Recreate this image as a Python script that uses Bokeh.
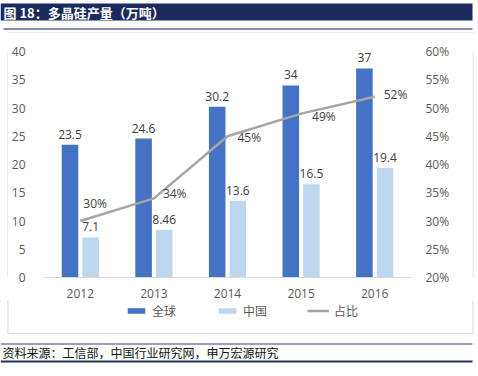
from bokeh.plotting import figure
from bokeh.layouts import column, row
from bokeh.models import (FactorRange, Range1d, LinearAxis, ColumnDataSource, Legend,
                          LegendItem, Label, NumeralTickFormatter, FixedTicker)
from bokeh.transform import dodge
from bokeh.core.properties import value
from bokeh.embed import file_html
from bokeh.resources import INLINE

# ---- data ----
years = ["2012", "2013", "2014", "2015", "2016"]
global_output = [23.5, 24.6, 30.2, 34, 37]
china_output = [7.1, 8.46, 13.6, 16.5, 19.4]
china_share = [0.30, 0.34, 0.45, 0.49, 0.52]
global_labels = ["23.5", "24.6", "30.2", "34", "37"]
china_labels = ["7.1", "8.46", "13.6", "16.5", "19.4"]
share_labels = ["30%", "34%", "45%", "49%", "52%"]
left_ticks = [0, 5, 10, 15, 20, 25, 30, 35, 40]
right_ticks = [0.20, 0.25, 0.30, 0.35, 0.40, 0.45, 0.50, 0.55, 0.60]
series_names = ["全球", "中国", "占比"]
title_text = "图 18：多晶硅产量（万吨）"
source_text = "资料来源：工信部，中国行业研究网，申万宏源研究"

# label placement (style, screen px)
share_dx = [3, 9, 10, 11, 9]
share_dy = [-18, -5, 1, 3, -2]

FONT = "Open Sans"
CJK = "Noto Sans CJK SC"
TICK_C = "#595959"
LABEL_C = "#404040"
C_GLOBAL = "#4472c4"
C_CHINA = "#bdd7ee"
C_SHARE = "#a5a5a5"
C_BOX = "#d9d9d9"
W = 478
MAIN_H = 267
BOT_H = 376 - 33 - MAIN_H


def deco_fig(w, h):
    f = figure(width=w, height=h, x_range=Range1d(0, w), y_range=Range1d(h, 0),
               output_backend="svg", toolbar_location=None,
               min_border=0, min_border_left=0, min_border_right=0,
               min_border_top=0, min_border_bottom=0)
    f.axis.visible = False
    f.grid.visible = False
    f.outline_line_color = None
    f.background_fill_color = "white"
    f.border_fill_color = "white"
    return f


# ---- top strip: title bar ----
top = deco_fig(W, 33)
top.quad(left=0, right=472, top=3, bottom=20, fill_color="#1b2a5c", line_color=None)
top.quad(left=3, right=472, top=27.5, bottom=29.5, fill_color="#8a8ab8", line_color=None)
top.quad(left=7, right=473, top=32, bottom=33, fill_color=C_BOX, line_color=None)
top.add_layout(Label(x=3, y=11.5, text=title_text, text_font=CJK, text_font_style="bold",
                     text_font_size="13px", text_color="white", text_baseline="middle"))

# ---- main chart ----
src = ColumnDataSource(dict(year=years, glob=global_output, china=china_output,
                            share=china_share, gl=global_labels, cl=china_labels,
                            sl=share_labels, dx=share_dx, dy=share_dy))

p = figure(width=464, height=MAIN_H, x_range=FactorRange(*years), y_range=Range1d(0, 40),
           output_backend="svg", toolbar_location=None,
           min_border_left=35, min_border_right=61, min_border_top=18, min_border_bottom=22)
p.extra_y_ranges = {"pct": Range1d(0.2, 0.6)}
p.outline_line_color = None
p.xgrid.visible = False
p.ygrid.visible = False
p.background_fill_color = "white"
p.border_fill_color = "white"

p.vbar(x=dodge("year", -0.14, range=p.x_range), top="glob", width=0.225,
       source=src, fill_color=C_GLOBAL, line_color=None)
p.vbar(x=dodge("year", 0.14, range=p.x_range), top="china", width=0.225,
       source=src, fill_color=C_CHINA, line_color=None)
p.line(x="year", y="share", y_range_name="pct", source=src,
       line_color=C_SHARE, line_width=2.5)

p.text(x=dodge("year", -0.14, range=p.x_range), y="glob", text="gl", source=src,
       text_align="center", text_baseline="bottom", y_offset=-6,
       text_font=value(FONT), text_font_size="12px", text_color=LABEL_C)
p.text(x=dodge("year", 0.14, range=p.x_range), y="china", text="cl", source=src,
       text_align="center", text_baseline="bottom", y_offset=-6,
       text_font=value(FONT), text_font_size="12px", text_color=LABEL_C)
p.text(x="year", y="share", text="sl", source=src, y_range_name="pct",
       text_align="left", text_baseline="middle", x_offset="dx", y_offset="dy",
       text_font=value(FONT), text_font_size="12px", text_color=LABEL_C)

la = p.yaxis[0]
la.ticker = FixedTicker(ticks=left_ticks)
xa = p.xaxis[0]
ra = LinearAxis(y_range_name="pct", ticker=FixedTicker(ticks=right_ticks),
                formatter=NumeralTickFormatter(format="0%"))
p.add_layout(ra, "right")
for ax in (la, ra, xa):
    ax.axis_line_color = None
    ax.major_tick_line_color = None
    ax.minor_tick_line_color = None
    ax.major_label_text_color = TICK_C
    ax.major_label_text_font = FONT
    ax.major_label_text_font_size = "12px"
xa.axis_line_color = C_BOX
xa.axis_line_width = 1
xa.major_label_standoff = 5
la.major_label_standoff = 12
ra.major_label_standoff = 8

# box side edges
edge_l = deco_fig(8, MAIN_H)
edge_l.quad(left=7, right=8, top=0, bottom=MAIN_H, fill_color=C_BOX, line_color=None)
edge_r = deco_fig(6, MAIN_H)
edge_r.quad(left=0, right=1, top=0, bottom=MAIN_H, fill_color=C_BOX, line_color=None)

# ---- bottom strip: legend, box bottom, source (y in px from strip top) ----
y0 = 33 + MAIN_H
bot = deco_fig(W, BOT_H)
bot.quad(left=7, right=8, top=0, bottom=333 - y0, fill_color=C_BOX, line_color=None)
bot.quad(left=472, right=473, top=0, bottom=333 - y0, fill_color=C_BOX, line_color=None)
bot.quad(left=7, right=473, top=332.5 - y0, bottom=333.5 - y0, fill_color=C_BOX, line_color=None)
bot.quad(left=0, right=472, top=343 - y0, bottom=344 - y0, fill_color="#3a3f72", line_color=None)
bot.quad(left=0, right=472, top=360 - y0, bottom=362 - y0, fill_color="#26305f", line_color=None)
bot.add_layout(Label(x=2, y=352 - y0, text=source_text, text_font=CJK, text_font_size="12px",
                     text_color="#111111", text_baseline="middle"))

# legend proxies (placed outside the visible range; only their legend swatches show)
lg_g = bot.vbar(x=[-50], top=[1], width=1, fill_color=C_GLOBAL, line_color=None)
lg_c = bot.vbar(x=[-50], top=[1], width=1, fill_color=C_CHINA, line_color=None)
lg_s = bot.line(x=[-60, -50], y=[1, 1], line_color=C_SHARE, line_width=2.5)
legend = Legend(items=[LegendItem(label=series_names[0], renderers=[lg_g]),
                       LegendItem(label=series_names[1], renderers=[lg_c]),
                       LegendItem(label=series_names[2], renderers=[lg_s])],
                orientation="horizontal", location=(125, BOT_H - 2 - 17),
                glyph_width=22, glyph_height=7, label_height=17, spacing=40,
                label_standoff=5, padding=0, margin=0, border_line_color=None,
                background_fill_alpha=0,
                label_text_font=CJK, label_text_font_size="12px", label_text_color=TICK_C)
bot.add_layout(legend)

layout = column(top, row(edge_l, p, edge_r, spacing=0), bot, spacing=0)
open("out.html", "w").write(file_html(layout, INLINE))
